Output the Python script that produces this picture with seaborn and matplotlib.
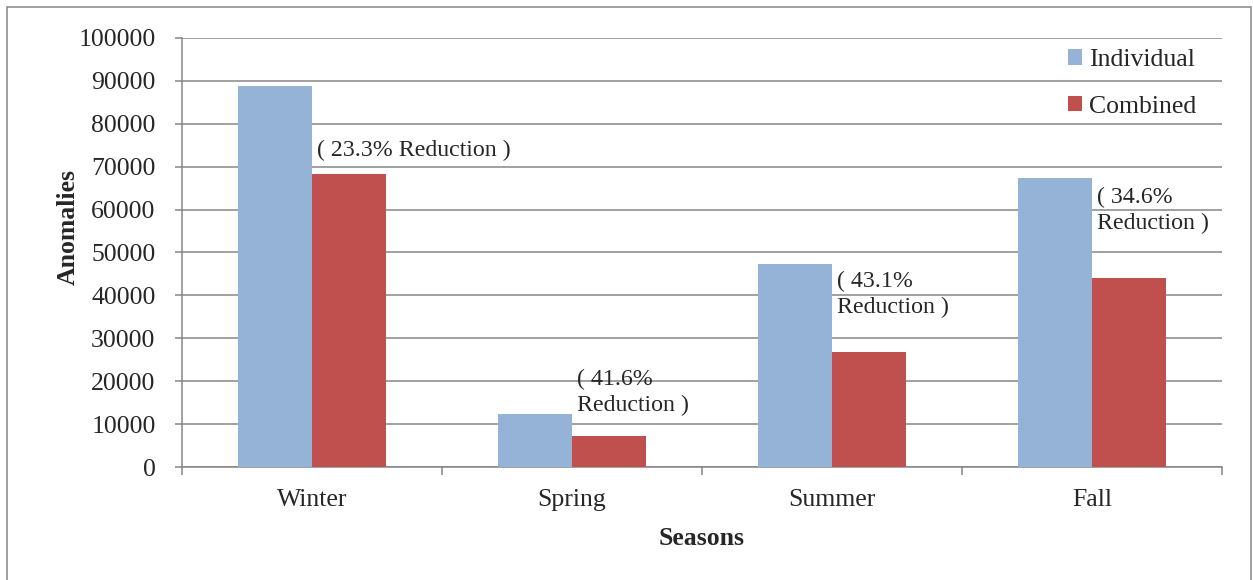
import pandas as pd
import matplotlib.pyplot as plt
from matplotlib.patches import Rectangle
from matplotlib.ticker import MultipleLocator, FixedLocator
import seaborn as sns

seasons = ['Winter', 'Spring', 'Summer', 'Fall']
individual = [88900, 12350, 47300, 67300]
combined = [68200, 7200, 26900, 44000]
notes = ['( 23.3% Reduction )', '( 41.6%\nReduction )', '( 43.1%\nReduction )', '( 34.6%\nReduction )']
note_y = [73900, 17400, 40300, 59700]

df = pd.DataFrame({
    'Seasons': seasons * 2,
    'Anomalies': individual + combined,
    'Series': ['Individual'] * 4 + ['Combined'] * 4,
})

sns.set_style('white')
plt.rcParams['font.family'] = ['Liberation Serif', 'DejaVu Serif']

grid_col = '#868686'
fig = plt.figure(figsize=(12.53, 5.8), dpi=100)
ax = fig.add_axes([182 / 1253, 1 - 467 / 580, 1040 / 1253, 429 / 580])

sns.barplot(data=df, x='Seasons', y='Anomalies', hue='Series', order=seasons,
            palette={'Individual': '#95B3D7', 'Combined': '#C0504D'},
            saturation=1, errorbar=None, width=0.573, linewidth=0, ax=ax, zorder=3)

ax.set_ylim(0, 100000)
ax.set_xlim(-0.5, 3.5)
ax.yaxis.set_major_locator(MultipleLocator(10000))
ax.grid(axis='y', color=grid_col, linewidth=1.1, zorder=0)
ax.set_axisbelow(True)

for side in ['top', 'right']:
    ax.spines[side].set_visible(False)
for side in ['left', 'bottom']:
    ax.spines[side].set_color(grid_col)
    ax.spines[side].set_linewidth(1.1)

ax.tick_params(axis='y', which='major', length=5, width=1.1, color=grid_col,
               labelsize=18.5, pad=14, left=True)
ax.tick_params(axis='x', which='major', length=0, labelsize=18.5, pad=16)
ax.xaxis.set_minor_locator(FixedLocator([-0.5, 0.5, 1.5, 2.5, 3.5]))
ax.tick_params(axis='x', which='minor', length=6, width=1.1, color=grid_col, bottom=True)

ax.set_xlabel('Seasons', fontsize=18.5, fontweight='bold')
ax.set_ylabel('Anomalies', fontsize=18.5, fontweight='bold')
ax.xaxis.set_label_coords(0.5, -0.141)
ax.yaxis.set_label_coords(-0.098, 0.56)

for i, (txt, y) in enumerate(zip(notes, note_y)):
    ax.text(i + 0.02, y, txt, fontsize=17.2, ha='left', va='center', linespacing=1.3, zorder=4)

ax.legend(loc='upper left', bbox_to_anchor=(0.852, 0.974), frameon=False, fontsize=18.5,
          handlelength=0.55, handleheight=0.55, handletextpad=0.25, labelspacing=0.95,
          borderpad=0, borderaxespad=0, title=None)

fig.patches.append(Rectangle((7 / 1253, -0.05), 1244 / 1253, 1.05 - 7 / 580, transform=fig.transFigure,
                             fill=False, edgecolor=grid_col, linewidth=1.1))

fig.savefig('out.png', dpi=100)
